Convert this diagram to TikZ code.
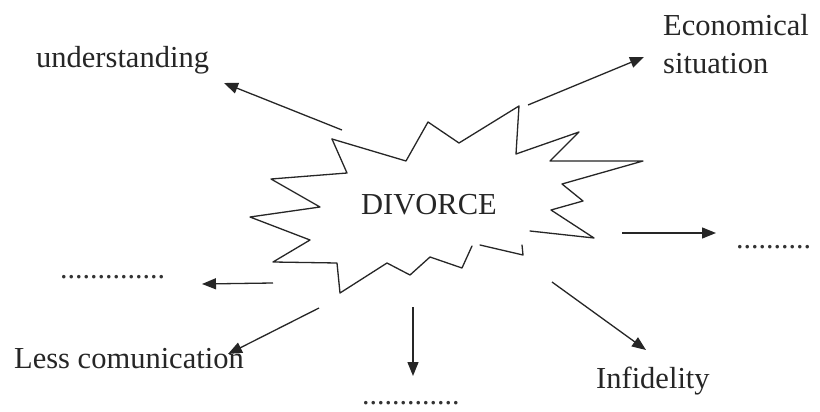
\documentclass[tikz,border=0pt]{standalone}
\usepackage{fontspec}
\setmainfont{Liberation Serif}
\usetikzlibrary{arrows.meta}
\begin{document}
\begin{tikzpicture}[x=1pt,y=-1pt,
  lbl/.style={anchor=base west,inner sep=0pt,font=\fontsize{30.5}{37}\selectfont,text=black!85},
  dots/.style={anchor=base west,inner sep=0pt,font=\fontsize{30}{36}\selectfont,text=black!80},
  arr/.style={line width=1.3pt,draw=black!85,-{Triangle[length=14pt,width=11pt]}},
  starline/.style={line width=1.3pt,draw=black!85,line join=round,line cap=round}]
\useasboundingbox (0,0) rectangle (820,412);
\fill[white] (0,0) rectangle (820,412);
% star
\draw[starline] (332,139) -- (406,161) -- (428,122) -- (459,143) -- (519,106) -- (516,154)
  -- (579,132) -- (550,161) -- (643,161) -- (562,184) -- (583,201) -- (551,210)
  -- (594,238) -- (530,231);
\draw[starline] (480,245) -- (523,255) -- (522,245);
\draw[starline] (472,246) -- (462,268) -- (430,257) -- (410,275) -- (387,263) -- (340,293)
  -- (337,263) -- (273,262) -- (310,240) -- (250,217) -- (320,207) -- (271,179)
  -- (347,173) -- (332,139);
% labels
\node[lbl] (div) at (361,214) {DIVORCE};
\node[lbl] (und) at (36,67) {understanding};
\node[lbl] (eco) at (663,36) {Economical};
\node[lbl] (sit) at (663,74) {situation};
\node[lbl] (less) at (14,368) {Less comunication};
\node[lbl] (inf) at (596,388) {Infidelity};
\node[dots] (dl) at (60,278) {..............};
\node[dots] (dr) at (736,248) {..........};
\node[dots] (db) at (362,404) {.............};
% arrow ends
\coordinate (a1s) at (342,130); \coordinate (a1e) at (224,83);
\coordinate (a2s) at (528,105); \coordinate (a2e) at (644,57);
\coordinate (a3s) at (622,233); \coordinate (a3e) at (716,233);
\coordinate (a4s) at (552,282); \coordinate (a4e) at (646,350);
\coordinate (a5s) at (413,307); \coordinate (a5e) at (413,376);
\coordinate (a6s) at (319,308); \coordinate (a6e) at (228,354);
\coordinate (a7s) at (273,283); \coordinate (a7e) at (202,284);
\draw[arr] (a1s) -- (a1e);
\draw[arr] (a2s) -- (a2e);
\draw[arr] (a3s) -- (a3e);
\draw[arr] (a4s) -- (a4e);
\draw[arr] (a5s) -- (a5e);
\draw[arr] (a6s) -- (a6e);
\draw[arr] (a7s) -- (a7e);
\end{tikzpicture}
\end{document}
